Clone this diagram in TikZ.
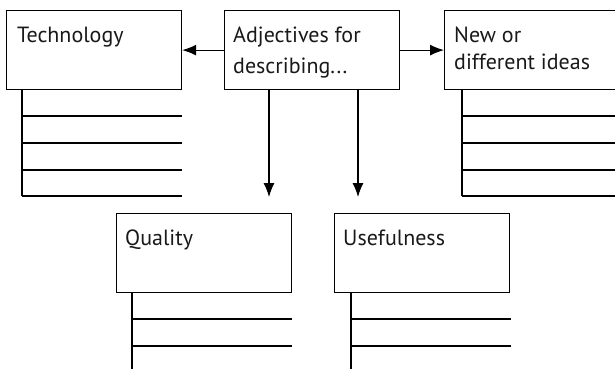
\documentclass[tikz,border=0pt]{standalone}
\usepackage{fontspec}
\setmainfont{PT Sans}
\usetikzlibrary{arrows.meta,calc}
\begin{document}
\begin{tikzpicture}[x=1pt,y=-1pt,
  box/.style={draw, line width=1.2pt, minimum width=175pt, minimum height=79pt, anchor=north west, inner sep=0pt},
  lbl/.style={anchor=base west, align=left, inner sep=0pt, font=\fontsize{22}{29}\selectfont, text=black!90},
  rule/.style={line width=1.1pt},
  arr/.style={line width=1.1pt, -{Latex[length=14pt,width=11pt]}}]
\useasboundingbox (0,0) rectangle (615,369);
\clip (0,0) rectangle (615,369);
\node[box] (tech) at (6,10) {};
\node[box] (adj) at (224,10) {};
\node[box, minimum width=185pt] (new) at (444,10) {};
\node[box] (qual) at (116,213) {};
\node[box] (use) at (334,213) {};
\node[lbl] (techl) at ($(tech.north west)+(11,32)$) {Technology};
\node[lbl, font=\fontsize{22}{30}\selectfont] (adjl) at ($(adj.north west)+(9,63)$) {Adjectives for\\describing...};
\node[lbl, font=\fontsize{22}{27}\selectfont] (newl) at ($(new.north west)+(10,59)$) {New or\\different ideas};
\node[lbl] (quall) at ($(qual.north west)+(9,32)$) {Quality};
\node[lbl] (usel) at ($(use.north west)+(9,32)$) {Usefulness};
% writing lines
\draw[rule] (22,89) -- (22,196);
\foreach \y in {116,143,170,196} \draw[rule] (22,\y) -- (182,\y);
\draw[rule] (462,89) -- (462,196);
\foreach \y in {116,143,170,196} \draw[rule] (462,\y) -- (620,\y);
\draw[rule] (132,292) -- (132,370);
\foreach \y in {319,346} \draw[rule] (132,\y) -- (292,\y);
\draw[rule] (351,292) -- (351,370);
\foreach \y in {319,346} \draw[rule] (351,\y) -- (511,\y);
% arrows
\draw[arr] (adj.west) -- (tech.east);
\draw[arr] (adj.east) -- (new.west);
\draw[arr, shorten >=16pt] (adj.south -| 269,0) -- (qual.north -| 269,0);
\draw[arr, shorten >=16pt] (adj.south -| 358,0) -- (use.north -| 358,0);
\end{tikzpicture}
\end{document}
